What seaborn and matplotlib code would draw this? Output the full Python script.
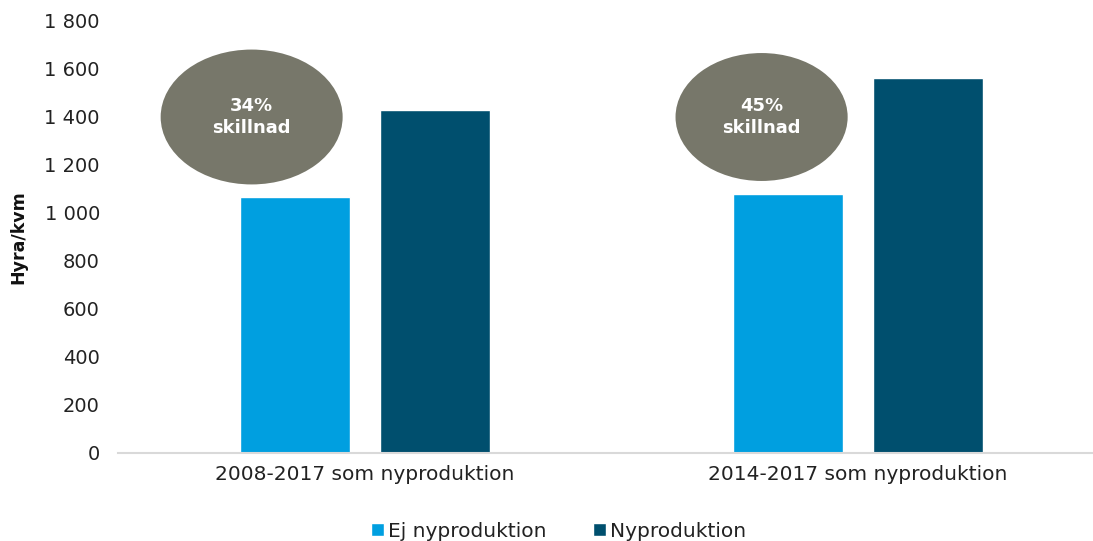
import matplotlib
matplotlib.use('Agg')
import matplotlib.pyplot as plt
from matplotlib.patches import Ellipse
import seaborn as sns
import pandas as pd

sns.set_style("white")
plt.rcParams['font.family'] = ['DejaVu Sans']

# data
periods = ['2008-2017 som nyproduktion', '2014-2017 som nyproduktion']
series = ['Ej nyproduktion', 'Nyproduktion']
ej_ny = [1067, 1079]
ny = [1429, 1561]
diff_labels = ['34%\nskillnad', '45%\nskillnad']
yticks = [0, 200, 400, 600, 800, 1000, 1200, 1400, 1600, 1800]

colors = {'Ej nyproduktion': '#009fe0', 'Nyproduktion': '#004f6e'}

df = pd.DataFrame({
    'period': periods * 2,
    'serie': [series[0]] * 2 + [series[1]] * 2,
    'value': ej_ny + ny,
})

fig = plt.figure(figsize=(10.93, 5.41), dpi=100)
ax = fig.add_axes([118 / 1093, 88 / 541, 1 - 118 / 1093, (453 - 21) / 541])

sns.barplot(data=df, x='period', y='value', hue='serie', palette=colors,
            width=0.568, gap=0.215, saturation=1, ax=ax)

ax.set_xlim(-0.5, 1.477)
ax.set_ylim(0, 1800)
ax.set_yticks(yticks)
ax.set_yticklabels(['{:,}'.format(v).replace(',', ' ') for v in yticks])
ax.tick_params(axis='y', length=0, labelsize=14, colors='#222222', pad=13)
ax.tick_params(axis='x', length=0, labelsize=14.5, colors='#222222', pad=9)
ax.set_xlabel('')
ax.set_ylabel('Hyra/kvm', fontsize=12.5, fontweight='bold', color='#111111')
ax.yaxis.set_label_coords(-0.093, 0.5)

for side in ['top', 'right', 'left']:
    ax.spines[side].set_visible(False)
ax.spines['bottom'].set_color('#d9d9d9')
ax.spines['bottom'].set_linewidth(1.5)

# difference bubbles
bubble_w = [0.369, 0.349]
bubble_h = [562, 533]
for i, lab in enumerate(diff_labels):
    cx = i - 0.229 + 0.034 * i
    e = Ellipse((cx, 1400), bubble_w[i], bubble_h[i], facecolor='#77776a',
                edgecolor='none', zorder=3)
    ax.add_patch(e)
    ax.text(cx, 1400, lab, ha='center', va='center', color='white',
            fontsize=13, fontweight='bold', linespacing=1.3, zorder=4)

leg = ax.legend(loc='lower center', bbox_to_anchor=(0.5 - 0.048, -0.245), ncol=2,
                frameon=False, fontsize=14.5, handlelength=0.65, handleheight=0.65,
                handletextpad=0.2, columnspacing=2.3)
for t in leg.get_texts():
    t.set_color('#222222')

fig.savefig('out.png', dpi=100)
plt.close()
